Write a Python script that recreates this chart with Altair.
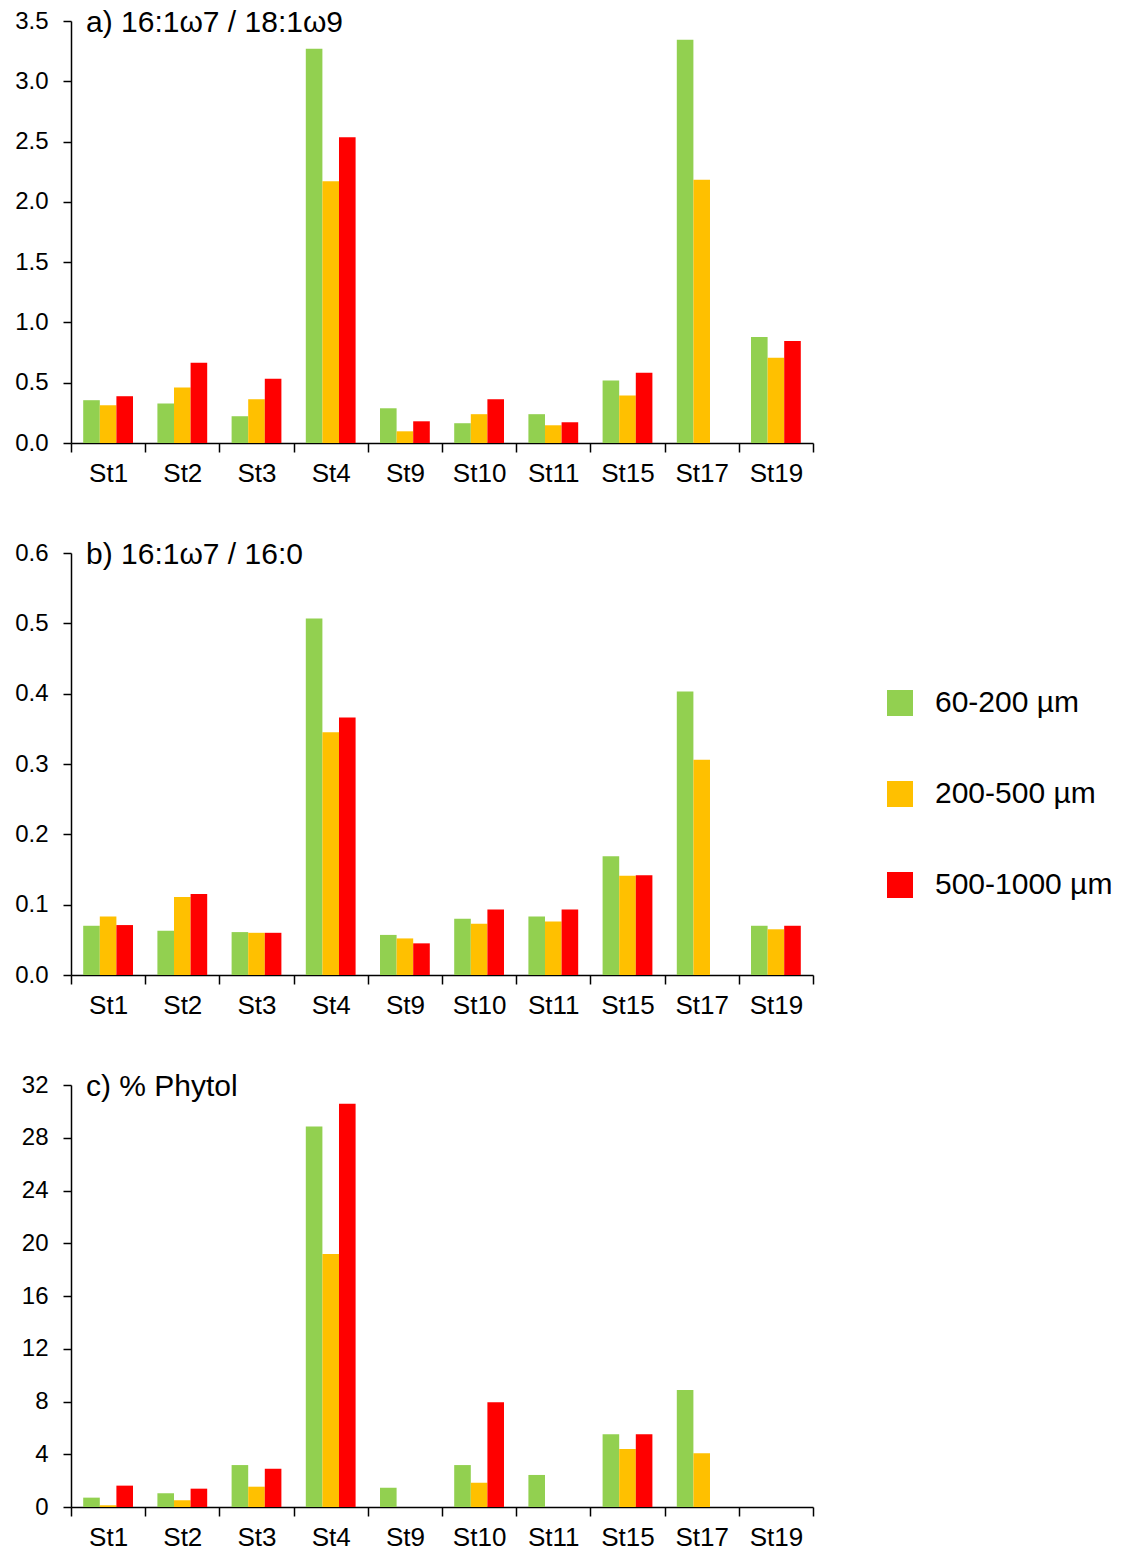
import altair as alt
import pandas as pd

stations = ["St1", "St2", "St3", "St4", "St9", "St10", "St11", "St15", "St17", "St19"]
sizes = ["60-200 µm", "200-500 µm", "500-1000 µm"]
colors = ["#92D050", "#FFC000", "#FF0000"]

# a) 16:1w7 / 18:1w9
a_60 = [0.355, 0.327, 0.222, 3.27, 0.288, 0.164, 0.239, 0.519, 3.345, 0.879]
a_200 = [0.313, 0.46, 0.363, 2.17, 0.097, 0.239, 0.147, 0.394, 2.184, 0.707]
a_500 = [0.388, 0.665, 0.532, 2.535, 0.18, 0.363, 0.172, 0.582, None, 0.845]

# b) 16:1w7 / 16:0
b_60 = [0.070, 0.063, 0.061, 0.507, 0.057, 0.080, 0.083, 0.169, 0.403, 0.070]
b_200 = [0.083, 0.111, 0.060, 0.345, 0.052, 0.073, 0.076, 0.141, 0.306, 0.065]
b_500 = [0.071, 0.115, 0.060, 0.366, 0.045, 0.093, 0.093, 0.142, None, 0.070]

# c) % Phytol
c_60 = [0.71, 1.04, 3.18, 28.86, 1.46, 3.18, 2.43, 5.51, 8.87, None]
c_200 = [0.13, 0.51, 1.54, 19.18, None, 1.84, None, 4.40, 4.07, None]
c_500 = [1.62, 1.39, 2.90, 30.58, None, 7.94, None, 5.51, None, None]

titles = ["a) 16:1ω7 / 18:1ω9", "b) 16:1ω7 / 16:0", "c) % Phytol"]
y_ticks_a = [0, 0.5, 1.0, 1.5, 2.0, 2.5, 3.0, 3.5]
y_ticks_b = [0, 0.1, 0.2, 0.3, 0.4, 0.5, 0.6]
y_ticks_c = [0, 4, 8, 12, 16, 20, 24, 28, 32]

FONT = "Liberation Sans"
W, H = 742, 422

legend = alt.Legend(
    title=None, orient="none", legendX=814, legendY=667,
    symbolType="square", symbolSize=676, symbolStrokeWidth=0,
    labelFontSize=30, labelFont=FONT, labelColor="black",
    labelOffset=20, rowPadding=61, labelLimit=400,
)


def panel(title, series, ticks, fmt):
    rows = []
    for size, vals in zip(sizes, series):
        for st, v in zip(stations, vals):
            if v is not None:
                rows.append({"station": st, "size": size, "value": v})
    df = pd.DataFrame(rows)
    bars = alt.Chart(df).mark_bar().encode(
        x=alt.X(
            "station:N",
            scale=alt.Scale(domain=stations, paddingInner=0, paddingOuter=0),
            axis=alt.Axis(
                title=None, labelAngle=0, tickBand="extent", labelFontSize=26,
                labelFont=FONT, labelColor="black", labelPadding=8,
                tickSize=9, tickColor="black", tickWidth=1.5,
                domainColor="black", domainWidth=1.5, grid=False,
            ),
        ),
        xOffset=alt.XOffset(
            "size:N", scale=alt.Scale(domain=sizes, paddingInner=0, paddingOuter=0.735)
        ),
        y=alt.Y(
            "value:Q",
            scale=alt.Scale(domain=[ticks[0], ticks[-1]], nice=False, zero=True),
            axis=alt.Axis(
                title=None, values=ticks, format=fmt, labelFontSize=24,
                labelFont=FONT, labelColor="black", labelPadding=15,
                tickSize=8, tickColor="black", tickWidth=1.5,
                domainColor="black", domainWidth=1.5, grid=False,
            ),
        ),
        color=alt.Color("size:N", scale=alt.Scale(domain=sizes, range=colors), legend=legend),
    )
    label = alt.Chart(pd.DataFrame({"t": [title]})).mark_text(
        align="left", baseline="middle", fontSize=30, font=FONT, color="black"
    ).encode(text="t:N", x=alt.value(15), y=alt.value(2))
    return alt.layer(bars, label).properties(width=W, height=H)


chart = alt.vconcat(
    panel(titles[0], [a_60, a_200, a_500], y_ticks_a, ".1f"),
    panel(titles[1], [b_60, b_200, b_500], y_ticks_b, ".1f"),
    panel(titles[2], [c_60, c_200, c_500], y_ticks_c, "d"),
    spacing=54,
).properties(
    padding={"left": 6, "top": 0, "right": 0, "bottom": 0}
).configure(font=FONT).configure_view(strokeWidth=0, stroke="transparent")

chart.save("out.html", embed_options={"renderer": "svg", "actions": False})
